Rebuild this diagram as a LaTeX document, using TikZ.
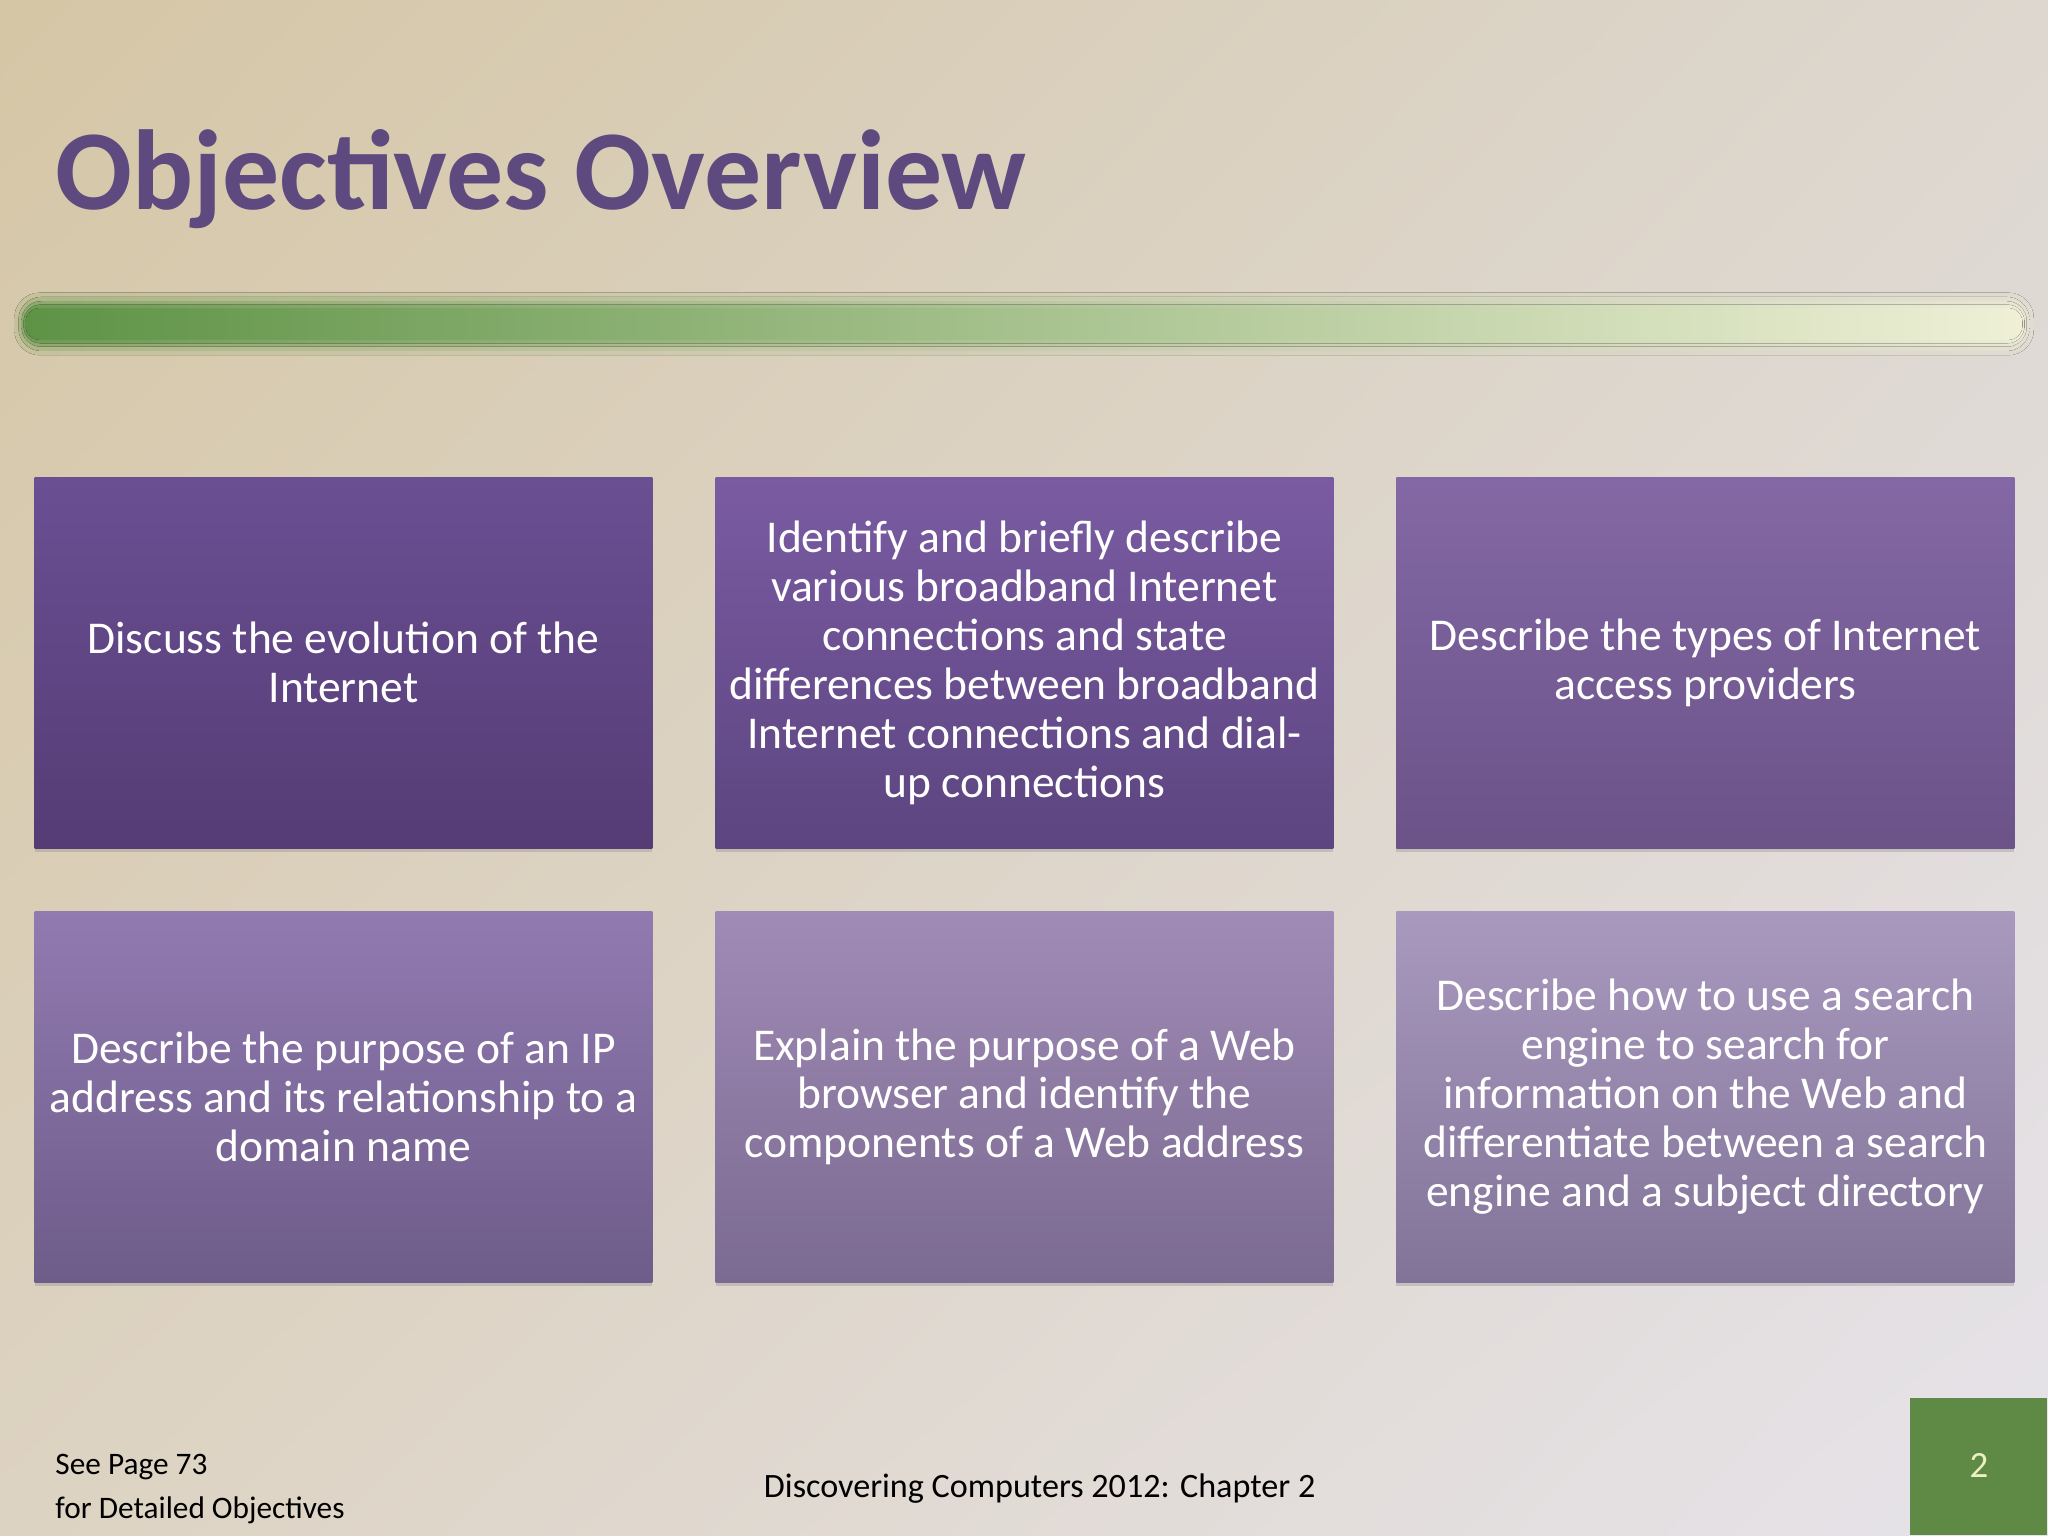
\documentclass[tikz,border=0pt]{standalone}
\usepackage{fontspec}
\setmainfont{Carlito}
\usetikzlibrary{positioning,shadows,shadings}

\definecolor{bgUL}{HTML}{D5C6A5}
\definecolor{bgUR}{HTML}{DDD7CF}
\definecolor{bgLL}{HTML}{DDD3C2}
\definecolor{bgLR}{HTML}{E6E3EA}
\definecolor{titlePurple}{HTML}{5E4A7E}
\definecolor{barL}{HTML}{5E9346}
\definecolor{barM}{HTML}{9DBB86}
\definecolor{barR}{HTML}{EFF0D6}
\definecolor{bandL}{HTML}{D7C9AA}
\definecolor{bandM}{HTML}{DAD1C0}
\definecolor{bandR}{HTML}{DDD8D1}
\definecolor{pageGreen}{HTML}{5F8A45}
\definecolor{pageText}{HTML}{EEF0C4}
\definecolor{evoTop}{HTML}{6A4F93}
\definecolor{evoBot}{HTML}{553C75}
\definecolor{bbTop}{HTML}{7A5BA2}
\definecolor{bbBot}{HTML}{5C4580}
\definecolor{provTop}{HTML}{8368A5}
\definecolor{provBot}{HTML}{6B5388}
\definecolor{ipTop}{HTML}{917AB0}
\definecolor{ipBot}{HTML}{6E5C8A}
\definecolor{webTop}{HTML}{A08BB5}
\definecolor{webBot}{HTML}{7B6A92}
\definecolor{srchTop}{HTML}{A999BE}
\definecolor{srchBot}{HTML}{827398}

\begin{document}
\begin{tikzpicture}[x=1pt, y=1pt,
    objbox/.style={minimum width=217.2pt, minimum height=130.4pt, text width=217pt,
      inner sep=0pt, align=flush center, text=white, font=\fontsize{16}{17.2}\selectfont,
      drop shadow={opacity=0.3, shadow xshift=0pt, shadow yshift=-1.2pt}},
    footer/.style={font=\fontsize{12}{14.4}\selectfont, text=black, inner sep=0pt},
    node distance=21.8pt]
  \useasboundingbox (0,0) rectangle (720,540);
  % background
  \shade[upper left=bgUL, upper right=bgUR, lower left=bgLL, lower right=bgLR] (0,0) rectangle (720,540);

  \node[anchor=base west, inner sep=0pt, text=titlePurple, font=\fontsize{40}{48}\selectfont\bfseries] (title) at (19.3,466.5) {Objectives Overview};

  % blurred green bar, soft edge faked by bands mixed into the background
  \fill[rounded corners=9pt, left color=barL!15!bandL, middle color=barM!15!bandM, right color=barR!15!bandR]
    (5,415.1) rectangle (715,437.1);
  \fill[rounded corners=8pt, left color=barL!35!bandL, middle color=barM!35!bandM, right color=barR!35!bandR]
    (6.5,416.6) rectangle (713.5,435.6);
  \fill[rounded corners=7pt, left color=barL!60!bandL, middle color=barM!60!bandM, right color=barR!60!bandR]
    (7.5,418.1) rectangle (712.5,434.1);
  \fill[rounded corners=6pt, left color=barL!85!bandL, middle color=barM!85!bandM, right color=barR!85!bandR]
    (8.3,419.3) rectangle (711.7,432.9);
  \fill[rounded corners=5pt, left color=barL, middle color=barM, right color=barR]
    (9,420.5) rectangle (711,431.7);

  % objectives
  \node[objbox, anchor=north west, top color=evoTop, bottom color=evoBot] (evolution) at (11.95,372.4)
    {Discuss the evolution of the\\Internet};
  \node[objbox, right=of evolution, top color=bbTop, bottom color=bbBot] (broadband)
    {Identify and briefly describe\\various broadband Internet\\connections and state\\differences between broadband\\Internet connections and dial-\\up connections};
  \node[objbox, right=of broadband, top color=provTop, bottom color=provBot] (providers)
    {Describe the types of Internet\\access providers};
  \node[objbox, below=of evolution, top color=ipTop, bottom color=ipBot] (ipaddress)
    {Describe the purpose of an IP\\address and its relationship to a\\domain name};
  \node[objbox, right=of ipaddress, top color=webTop, bottom color=webBot] (browser)
    {Explain the purpose of a Web\\browser and identify the\\components of a Web address};
  \node[objbox, right=of browser, top color=srchTop, bottom color=srchBot] (search)
    {Describe how to use a search\\engine to search for\\information on the Web and\\differentiate between a search\\engine and a subject directory};

  \node[footer, font=\fontsize{11}{13.2}\selectfont, anchor=base west] (seepage) at (19.3,21.6) {See Page 73};
  \node[footer, font=\fontsize{11}{13.2}\selectfont, anchor=base west] (detailed) at (19.3,6.2) {for Detailed Objectives};
  \node[footer, anchor=base] (chapter) at (365.5,13.7) {Discovering Computers 2012: Chapter 2};
  \node[fill=pageGreen, minimum size=48.2pt, inner sep=0pt, anchor=south east, text=pageText,
    font=\fontsize{13}{15.6}\selectfont, text depth=1pt] (pagenum) at (720,0) {2};
\end{tikzpicture}
\end{document}
